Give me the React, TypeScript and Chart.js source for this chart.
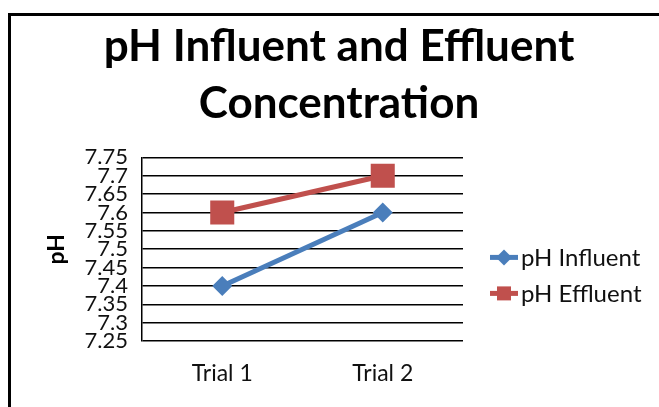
import { useEffect, useRef } from "react";
import { Chart, registerables } from "chart.js";

Chart.register(...registerables);

const categories = ["Trial 1", "Trial 2"];
const influent = [7.4, 7.6];
const effluent = [7.6, 7.7];
const seriesNames = ["pH Influent", "pH Effluent"];
const yTickValues = [7.25, 7.3, 7.35, 7.4, 7.45, 7.5, 7.55, 7.6, 7.65, 7.7, 7.75];
const titleLines = ["pH Influent and Effluent", "Concentration"];
const yTitle = "pH";

const BLUE = "#4A7EBB";
const RED = "#C0504D";
const FONT = "Lato";

const framePlugin = {
  id: "frame",
  beforeDraw(chart: any) {
    const { ctx, width, height } = chart;
    ctx.save();
    ctx.fillStyle = "#ffffff";
    ctx.fillRect(0, 0, width, height);
    ctx.fillStyle = "#000000";
    ctx.fillRect(8, 13, width - 8, 3);
    ctx.fillRect(8, 13, 3, height - 13);
    ctx.restore();
  },
  afterDraw(chart: any) {
    const { ctx, width, height } = chart;
    ctx.save();
    ctx.fillStyle = "#ffffff";
    ctx.fillRect(width - 8, 16, 8, height - 16);
    ctx.restore();
  },
};

const legendPlugin = {
  id: "sideLegend",
  afterDraw(chart: any) {
    const { ctx, chartArea } = chart;
    chart.data.datasets.forEach((ds: any, i: number) => {
      const y = chartArea.top + 100 + i * 36;
      const x0 = chartArea.right + 27;
      const x1 = x0 + 28;
      const cx = (x0 + x1) / 2;
      ctx.save();
      ctx.strokeStyle = ds.borderColor;
      ctx.fillStyle = ds.borderColor;
      ctx.lineWidth = 5;
      ctx.beginPath();
      ctx.moveTo(x0, y);
      ctx.lineTo(x1, y);
      ctx.stroke();
      ctx.beginPath();
      if (ds.pointStyle === "rectRot") {
        const r = 8;
        ctx.moveTo(cx - r, y);
        ctx.lineTo(cx, y - r);
        ctx.lineTo(cx + r, y);
        ctx.lineTo(cx, y + r);
        ctx.closePath();
      } else {
        const s = 7;
        ctx.rect(cx - s, y - s, 2 * s, 2 * s);
      }
      ctx.fill();
      ctx.fillStyle = "#111111";
      ctx.font = `24px ${FONT}`;
      ctx.textBaseline = "middle";
      ctx.textAlign = "left";
      ctx.fillText(ds.label, x1 + 3, y + 1);
      ctx.restore();
    });
  },
};

export default function App() {
  const ref = useRef<HTMLCanvasElement | null>(null);

  useEffect(() => {
    if (!ref.current) return;
    const chart = new Chart(ref.current, {
      type: "line",
      data: {
        labels: categories,
        datasets: [
          {
            label: seriesNames[0],
            data: influent,
            borderColor: BLUE,
            backgroundColor: BLUE,
            borderWidth: 5,
            pointStyle: "rectRot",
            pointRadius: 10,
            pointBorderWidth: 0,
            pointBackgroundColor: BLUE,
            tension: 0,
          },
          {
            label: seriesNames[1],
            data: effluent,
            borderColor: RED,
            backgroundColor: RED,
            borderWidth: 5,
            pointStyle: "rect",
            pointRadius: 17,
            pointBorderWidth: 0,
            pointBackgroundColor: RED,
            tension: 0,
          },
        ],
      },
      options: {
        responsive: false,
        animation: false,
        layout: { padding: { left: 44, right: 25, top: 0, bottom: 0 } },
        plugins: {
          legend: { display: false },
          tooltip: { enabled: false },
          title: {
            display: true,
            text: titleLines,
            color: "#000000",
            font: { family: FONT, size: 44, weight: "bold", lineHeight: 1.3 },
            padding: { top: 18, bottom: 25 },
          },
        },
        scales: {
          x: {
            type: "category",
            offset: true,
            grid: { display: false, drawTicks: false },
            border: { display: false },
            ticks: {
              color: "#111111",
              font: { family: FONT, size: 23 },
              padding: 19,
              maxRotation: 0,
            },
            afterFit: (s: any) => {
              s.height = 66;
            },
          },
          y: {
            type: "linear",
            position: "left",
            min: yTickValues[0],
            max: yTickValues[yTickValues.length - 1],
            afterBuildTicks: (s: any) => {
              s.ticks = yTickValues.map((v) => ({ value: v }));
            },
            ticks: {
              autoSkip: false,
              padding: 14,
              color: "#111111",
              font: { family: FONT, size: 22 },
              callback: (v: any) => String(Number(Number(v).toFixed(2))),
            },
            grid: { color: "#000000", lineWidth: 1.5, drawTicks: false },
            border: { display: true, color: "#000000", width: 1.5 },
            title: {
              display: true,
              text: yTitle,
              color: "#000000",
              font: { family: FONT, size: 23, weight: "bold", lineHeight: 1.0 },
              padding: { top: 1, bottom: 14 },
            },
            afterFit: (s: any) => {
              s.width = 98;
            },
          },
          legendSpace: {
            type: "linear",
            position: "right",
            display: true,
            grid: { display: false, drawTicks: false, drawOnChartArea: false },
            border: { display: false, width: 0, color: "rgba(0,0,0,0)" },
            ticks: { display: false },
            afterFit: (s: any) => {
              s.width = 171;
            },
          },
        },
      },
      plugins: [framePlugin, legendPlugin],
    } as any);
    return () => chart.destroy();
  }, []);

  return (
    <div style={{ position: "absolute", left: 0, top: 0, width: 659, height: 407 }}>
      <canvas ref={ref} width={659} height={407} style={{ width: 659, height: 407, display: "block" }} />
    </div>
  );
}
